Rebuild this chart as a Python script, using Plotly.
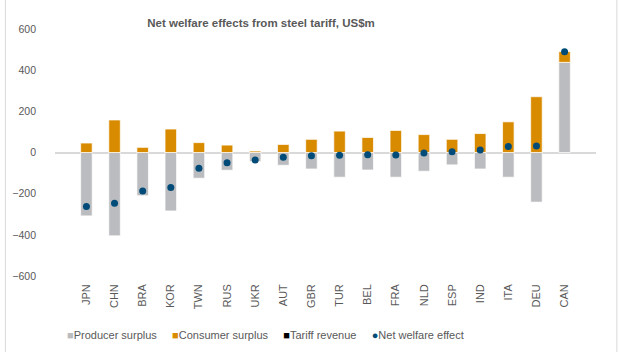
import plotly.graph_objects as go

countries = ["JPN", "CHN", "BRA", "KOR", "TWN", "RUS", "UKR", "AUT", "GBR",
             "TUR", "BEL", "FRA", "NLD", "ESP", "IND", "ITA", "DEU", "CAN"]
producer_surplus = [-308, -405, -210, -284, -125, -86, -44, -62, -80,
                    -120, -85, -120, -91, -60, -80, -120, -241, 438]
consumer_surplus = [46, 158, 25, 114, 48, 36, 7, 39, 64,
                    104, 73, 107, 87, 64, 92, 149, 271, 52]
tariff_revenue = [0] * 18
net_welfare = [-262, -247, -187, -170, -77, -50, -37, -23, -16,
               -13, -11, -12, -3, 4, 12, 29, 31, 490]

GREY = "#BBBCBF"
ORANGE = "#D98B00"
BLUE = "#004B78"
TXT = "#595959"
FONT = "Liberation Sans, Arial, sans-serif"

fig = go.Figure()
fig.add_trace(go.Bar(x=countries, y=producer_surplus, name="Producer surplus",
                     marker=dict(color=GREY, line=dict(color="rgba(255,255,255,0.7)", width=1))))
fig.add_trace(go.Bar(x=countries, y=consumer_surplus, name="Consumer surplus",
                     marker=dict(color=ORANGE, line=dict(color="rgba(255,255,255,0.7)", width=1))))
fig.add_trace(go.Bar(x=countries, y=tariff_revenue, name="Tariff revenue",
                     marker=dict(color="#000000", line=dict(width=0))))
fig.add_trace(go.Scatter(x=countries, y=net_welfare, name="Net welfare effect", mode="markers",
                         marker=dict(color=BLUE, size=7)))

L, R, T, B = 51, 24, 29, 76
W, H = 620, 352
pw, ph = W - L - R, H - T - B

def px_x(x):
    return (x - L) / pw

def px_y(y):
    return (H - B - y) / ph

legend_text = (f"<span style='color:{GREY}'>■</span>Producer surplus     "
               f"<span style='color:{ORANGE}'>■</span>Consumer surplus     "
               f"<span style='color:#000000'>■</span>Tariff revenue     "
               f"<span style='color:{BLUE}'>●</span>Net welfare effect")

fig.update_layout(
    width=W, height=H,
    margin=dict(l=L, r=R, t=T, b=B),
    barmode="relative",
    bargap=0.59,
    plot_bgcolor="white", paper_bgcolor="white",
    showlegend=False,
    font=dict(family=FONT, size=11, color=TXT),
    title=dict(text="<b>Net welfare effects from steel tariff, US$m</b>",
               font=dict(family=FONT, size=11.5, color=TXT),
               x=261 / W, xanchor="center", y=1 - 23 / H, yanchor="middle"),
    xaxis=dict(showgrid=False, showline=False, zeroline=False, tickangle=-90,
               ticks="", ticklabelstandoff=5, tickfont=dict(size=11, color=TXT)),
    yaxis=dict(range=[-600, 600], dtick=200, showgrid=False, showline=False,
               zeroline=True, zerolinecolor="#D9D9D9", zerolinewidth=1.5,
               ticks="", ticklabelstandoff=18, tickfont=dict(size=10.5, color=TXT)),
    annotations=[dict(text=legend_text, xref="paper", yref="paper",
                      x=px_x(263), y=px_y(335), xanchor="center", yanchor="middle",
                      showarrow=False, font=dict(family=FONT, size=11, color=TXT))],
    shapes=[
        dict(type="line", xref="paper", yref="paper", x0=px_x(1), x1=px_x(1),
             y0=px_y(H), y1=px_y(0), line=dict(color="#D9D9D9", width=1)),
        dict(type="line", xref="paper", yref="paper", x0=px_x(617), x1=px_x(617),
             y0=px_y(H), y1=px_y(0), line=dict(color="#D9D9D9", width=1)),
    ],
)

fig.write_html("out.html")
